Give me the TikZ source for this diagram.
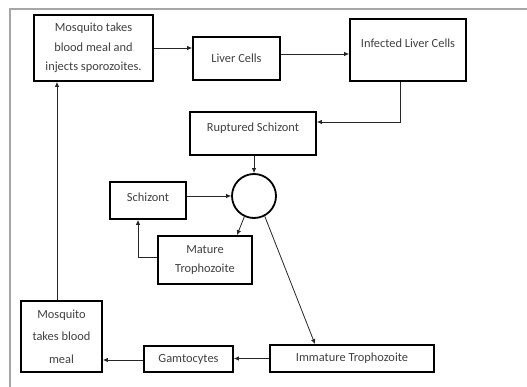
\documentclass[tikz,border=0pt]{standalone}
\usepackage{fontspec}
\setmainfont{Carlito}
\usetikzlibrary{arrows.meta}
\begin{document}
\begin{tikzpicture}[x=1pt,y=-1pt,
  box/.style={draw=black,line width=1.8pt,inner sep=0pt,align=center,text=black!75,font=\fontsize{12.4}{19.5}\selectfont},
  lbl/.style={inner sep=0pt,align=center,text=black!75,font=\fontsize{12.4}{19.5}\selectfont},
  conn/.style={draw=black!85,line width=0.8pt,-{Latex[length=5pt,width=4.5pt]}},
  plain/.style={draw=black!85,line width=0.8pt}]
\useasboundingbox (0,0) rectangle (527,387);
\draw[gray!70,line width=1.2pt] (10,387) -- (10,9) -- (527,9);
% nodes
\node[box,minimum width=119pt,minimum height=66pt] (mq1) at (93.5,48) {Mosquito takes\\blood meal and\\injects sporozoites.};
\node[box,minimum width=87pt,minimum height=43pt] (liver) at (236.5,58.5) {Liver Cells};
\node[box,minimum width=116pt,minimum height=62pt] (inf) at (408,50) {};
\node[lbl] (inft) at (408,43) {Infected Liver Cells};
\node[box,minimum width=126pt,minimum height=43pt] (rup) at (253,133.5) {};
\node[lbl] (rupt) at (253,128) {Ruptured Schizont};
\node[draw=black,line width=1.8pt,circle,minimum size=44pt,inner sep=0pt] (circ) at (254,196) {};
\node[box,minimum width=76pt,minimum height=37pt] (sch) at (148,200.5) {};
\node[lbl] (scht) at (148,197) {Schizont};
\node[box,minimum width=94pt,minimum height=48pt] (mat) at (205,260) {Mature\\Trophozoite};
\node[box,minimum width=164pt,minimum height=27pt] (imm) at (352,358.5) {Immature Trophozoite};
\node[box,minimum width=89pt,minimum height=26pt] (gam) at (188.5,359) {Gamtocytes};
\node[box,minimum width=81pt,minimum height=71pt,font=\fontsize{12.4}{22.5}\selectfont] (mq2) at (61.5,336.5) {Mosquito\\takes blood\\meal};
% coordinates
\coordinate (c1) at (400,122);
\coordinate (c2) at (138,257);
% connectors
\draw[conn] (mq1.east |- 0,48) -- (liver.west |- 0,48);
\draw[conn] (liver.east |- 0,54) -- (inf.west |- 0,54);
\draw[conn] (inf.south -| c1) -- (c1) -- (rup.east |- c1);
\draw[conn] (rup.south -| circ.north) -- (circ.north);
\draw[conn] (sch.east |- circ.west) -- (circ.west);
\draw[conn] (circ.-115) -- (mat.north -| 237,0);
\draw[conn] (mat.west |- c2) -- (c2) -- (sch.south -| c2);
\draw[conn] (circ.-62) -- (imm.north -| 315,0);
\draw[conn] (imm.west) -- (gam.east |- imm.west);
\draw[conn] (gam.west |- 0,360) -- (mq2.east |- 0,360);
\draw[conn] (mq2.north -| 57,0) -- (mq1.south -| 57,0);
\end{tikzpicture}
\end{document}
